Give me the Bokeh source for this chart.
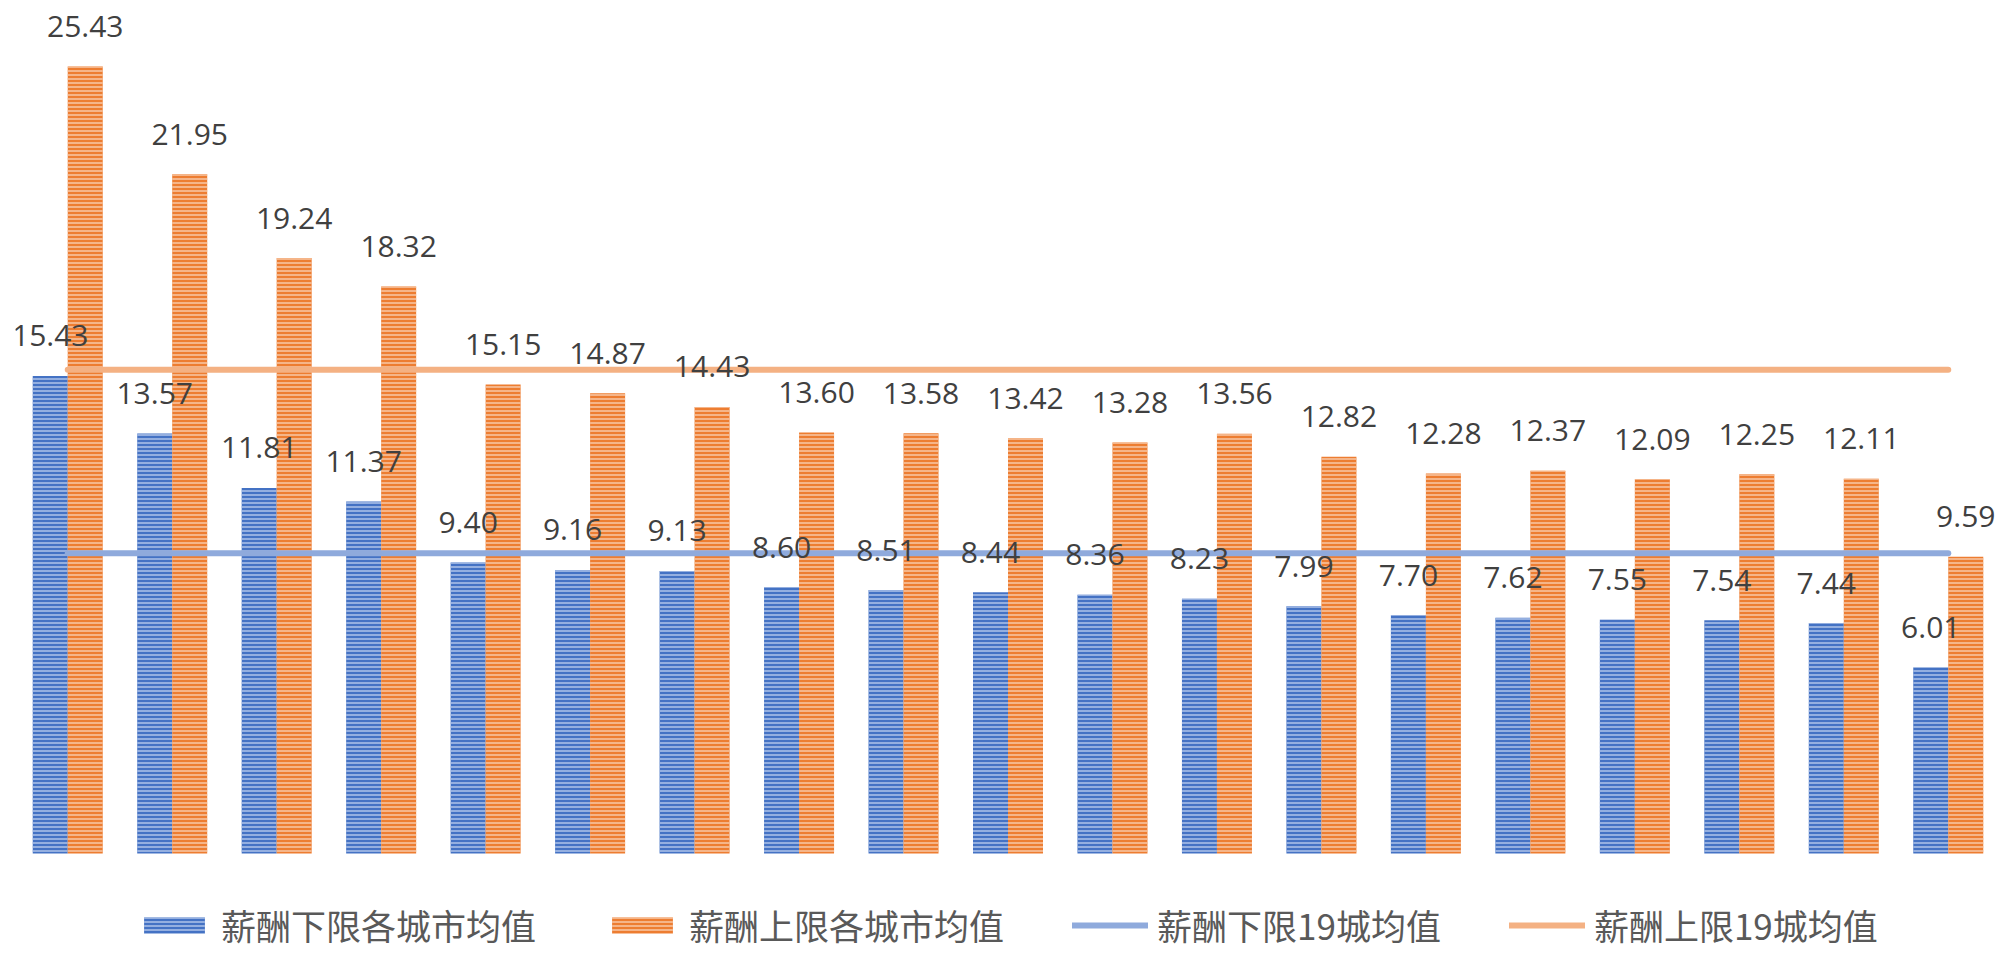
from bokeh.plotting import figure
from bokeh.models import Range1d, ColumnDataSource, Legend, LegendItem
from bokeh.core.properties import value
from bokeh.embed import file_html
from bokeh.resources import INLINE

# ---- data ----
low_vals = [15.43, 13.57, 11.81, 11.37, 9.40, 9.16, 9.13, 8.60, 8.51, 8.44,
            8.36, 8.23, 7.99, 7.70, 7.62, 7.55, 7.54, 7.44, 6.01]
high_vals = [25.43, 21.95, 19.24, 18.32, 15.15, 14.87, 14.43, 13.60, 13.58, 13.42,
             13.28, 13.56, 12.82, 12.28, 12.37, 12.09, 12.25, 12.11, 9.59]
low_avg = 9.70
high_avg = 15.63
series_names = ["薪酬下限各城市均值", "薪酬上限各城市均值", "薪酬下限19城均值", "薪酬上限19城均值"]

n = len(low_vals)
idx = list(range(n))
bw = 0.335

W, H = 2009, 964
top_px, zero_px = 10, 853
px_per_unit = 30.95
y_end = (zero_px - top_px) / px_per_unit
y_start = -(H - zero_px) / px_per_unit

p = figure(width=W, height=H, output_backend="svg", toolbar_location=None,
           x_range=Range1d(-0.5, n - 0.5), y_range=Range1d(y_start, y_end),
           x_axis_type=None, y_axis_type=None,
           min_border_left=15, min_border_right=9, min_border_top=top_px, min_border_bottom=0)
p.grid.visible = False
p.outline_line_color = None
p.background_fill_color = "white"

src_low = ColumnDataSource(dict(x=[i - bw / 2 for i in idx], top=low_vals,
                                lab=["%.2f" % v for v in low_vals]))
src_high = ColumnDataSource(dict(x=[i + bw / 2 for i in idx], top=high_vals,
                                 lab=["%.2f" % v for v in high_vals]))

r_low = p.vbar(x="x", top="top", bottom=0, width=bw, source=src_low,
               fill_color="#4472C4", line_color=None,
               hatch_pattern="horizontal_line", hatch_color="#A8BFE8",
               hatch_scale=4, hatch_weight=1.6)
r_high = p.vbar(x="x", top="top", bottom=0, width=bw, source=src_high,
                fill_color="#ED7D31", line_color=None,
                hatch_pattern="horizontal_line", hatch_color="#F8C4A0",
                hatch_scale=4, hatch_weight=1.6)

r_lavg = p.line(x=[idx[0], idx[-1]], y=[low_avg, low_avg], line_color="#8FAADC",
                line_width=6, line_cap="round")
r_havg = p.line(x=[idx[0], idx[-1]], y=[high_avg, high_avg], line_color="#F4B183",
                line_width=6, line_cap="round")

for src in (src_low, src_high):
    p.text(x="x", y="top", text="lab", source=src, text_align="center",
           text_baseline="alphabetic", y_offset=-40,
           text_font=value("Open Sans"), text_font_size="30px", text_color="#404040")

legend = Legend(items=[
    LegendItem(label=series_names[0], renderers=[r_low]),
    LegendItem(label=series_names[1], renderers=[r_high]),
    LegendItem(label=series_names[2], renderers=[r_lavg]),
    LegendItem(label=series_names[3], renderers=[r_havg]),
], orientation="horizontal", location=(121, 14))
legend.glyph_width = 76
legend.glyph_height = 20
legend.label_standoff = 9
legend.spacing = 68
legend.padding = 0
legend.margin = 0
legend.border_line_color = None
legend.background_fill_alpha = 0
legend.label_text_font = "Noto Sans CJK SC"
legend.label_text_font_size = "35px"
legend.label_text_color = "#595959"
p.add_layout(legend, "center")

open("out.html", "w").write(file_html(p, INLINE))
